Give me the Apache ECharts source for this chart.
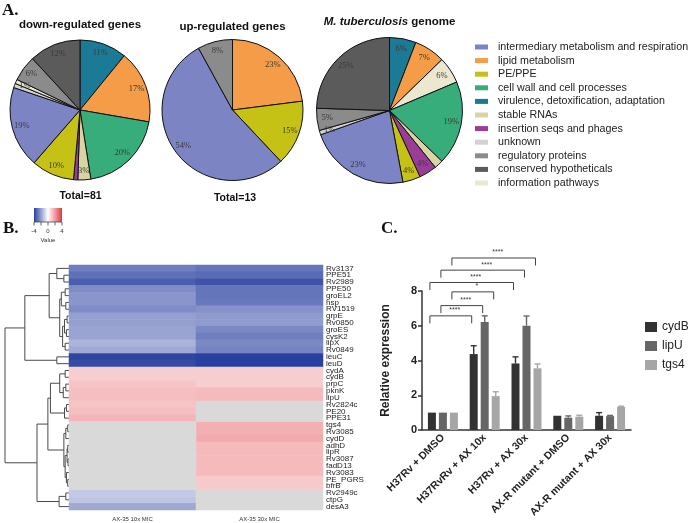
<!DOCTYPE html>
<html><head><meta charset="utf-8">
<script src="https://cdn.jsdelivr.net/npm/echarts@6/dist/echarts.min.js"></script>
<style>html,body{margin:0;padding:0;background:#fff}#c{width:696px;height:523px}</style>
</head><body><div id="c"></div>
<script>
// ================= DATA =================
// Panel A: functional categories
const categories = ['intermediary metabolism and respiration','lipid metabolism','PE/PPE','cell wall and cell processes','virulence, detoxification, adaptation','stable RNAs','insertion seqs and phages','unknown','regulatory proteins','conserved hypotheticals','information pathways'];
// slices clockwise from 12 o'clock, value = percent shown
const downCats = ['virulence, detoxification, adaptation','lipid metabolism','cell wall and cell processes','stable RNAs','insertion seqs and phages','PE/PPE','intermediary metabolism and respiration','unknown','information pathways','regulatory proteins','conserved hypotheticals'];
const downPct = [11,17,20,3,1,10,19,1,1,6,12];
const upCats = ['lipid metabolism','PE/PPE','intermediary metabolism and respiration','regulatory proteins'];
const upPct = [23,15,54,8];
const genomeCats = ['virulence, detoxification, adaptation','lipid metabolism','information pathways','cell wall and cell processes','stable RNAs','insertion seqs and phages','PE/PPE','intermediary metabolism and respiration','unknown','regulatory proteins','conserved hypotheticals'];
const genomePct = [6,7,6,19,2,4,4,23,1,5,25];
const pieTitles = ['down-regulated genes','up-regulated genes','{i|M. tuberculosis} genome'];
const pieTotals = ['Total=81','Total=13'];

// Panel B: heatmap (log2 fold change), null = not significant
const genes = ['Rv3137','PPE51','Rv2989','PPE50','groEL2','hsp','RV1519','grpE','Rv0850','groES','cysK2','lipX','Rv0849','leuC','leuD','cydA','cydB','prpC','pknK','lipU','Rv2824c','PE20','PPE31','tgs4','Rv3085','cydD','adhD','lipR','Rv3087','fadD13','Rv3083','PE_PGRS','bfrB','Rv2949c','ctpG','desA3'];
const conditions = ['AX-35 10x MIC','AX-35 30x MIC'];
const fc10x = [-2.7,-3.0,-3.4,-2.4,-2.2,-2.2,-2.4,-2.0,-2.0,-1.9,-1.9,-1.6,-1.8,-3.9,-3.8,1.0,1.0,1.2,1.3,1.3,1.2,1.3,1.5,null,null,null,null,null,null,null,null,null,null,-1.1,-1.2,-1.8];
const fc30x = [-2.9,-3.1,-3.6,-2.9,-2.9,-2.8,-2.3,-2.1,-2.1,-2.5,-2.7,-2.5,-2.6,-4.0,-4.0,1.0,1.0,1.0,1.4,1.4,null,null,null,1.6,1.6,1.7,1.4,1.4,1.4,1.4,1.4,1.1,1.1,null,null,null];
const colorScaleTicks = [-4,-2,0,2,4];
const colorScaleLabels = ['-4','','0','','4'];
// dendrogram: [height, left, right], leaves = row index
const dendro = [10,
  [6.9,
    [3.1,
      [1.9, 0, [0.8, 1, 2]],
      [1.45,
        [1.2, [0.6, 3, 4], [0.5, 5, 6]],
        [1.0, [0.7, [0.3, 7, 8], [0.4, 9, 10]], [0.6, 11, 12]]
      ]
    ],
    [1.9, 13, 14]
  ],
  [5.0,
    [3.3,
      [2.9,
        [1.45, [0.6, 15, 16], [0.9, [0.5, 17, 18], 19]],
        [0.7, [0.4, 20, 21], 22]
      ],
      [0.8, [0.5, [0.2, 23, 24], 25], [0.6, [0.3, [0.2, 26, 27], [0.15, 28, 29]], [0.4, 30, [0.2, 31, 32]]]]
    ],
    [1.55, [0.5, 33, 34], 35]
  ]
];

// Panel C: relative expression
const groups = ['H37Rv + DMSO','H37RvRv + AX 10x','H37Rv + AX 30x','AX-R mutant + DMSO','AX-R mutant + AX 30x'];
const genesC = ['cydB','lipU','tgs4'];
const cydB = [1,4.37,3.83,0.82,0.82];
const cydBErr = [0,0.48,0.38,0,0.18];
const lipU = [1,6.22,6.0,0.71,0.8];
const lipUErr = [0,0.35,0.56,0.1,0.04];
const tgs4 = [1,1.95,3.55,0.77,1.33];
const tgs4Err = [0,0.25,0.25,0.08,0.04];
// significance brackets: [groupA, geneA, groupB, geneB, level, text]
const brackets = [
  [0,0,1,0,6.57,'****'],
  [0,1,1,1,7.16,'****'],
  [0,2,1,2,7.95,'*'],
  [0,0,2,0,8.49,'****'],
  [0,1,2,1,9.2,'****'],
  [0,2,2,2,9.9,'****']
];

// ================= STYLE =================
const SANS = '"Liberation Sans", Arial, sans-serif';
const SERIF = '"Liberation Serif", "Times New Roman", serif';
const catColors = {
  'intermediary metabolism and respiration':'#7c84c4',
  'lipid metabolism':'#f49c47',
  'PE/PPE':'#c6c215',
  'cell wall and cell processes':'#36ad7a',
  'virulence, detoxification, adaptation':'#1b7a96',
  'stable RNAs':'#d8d5a2',
  'insertion seqs and phages':'#9a3d97',
  'unknown':'#d3d3d3',
  'regulatory proteins':'#8b8b8b',
  'conserved hypotheticals':'#5b5b5b',
  'information pathways':'#ece7d1'
};
const barColors = ['#323232','#666666','#a6a6a6'];
const BAR_W = 8, BAR_GAP = 3;

const pies = [
  {cats: downCats, pct: downPct, cx: 80, cy: 110, r: 70},
  {cats: upCats, pct: upPct, cx: 232.5, cy: 110, r: 70.5},
  {cats: genomeCats, pct: genomePct, cx: 389.5, cy: 110.5, r: 73}
];

const series = [];
pies.forEach(p => {
  series.push({
    type:'pie', center:[p.cx,p.cy], radius:[0,p.r], startAngle:90, clockwise:true,
    silent:true, label:{show:false}, labelLine:{show:false},
    itemStyle:{borderColor:'#111', borderWidth:1},
    data: p.cats.map((c,i)=>({name:c, value:p.pct[i], itemStyle:{color:catColors[c]}}))
  });
});
pies.forEach(p => {
  series.push({
    type:'pie', center:[p.cx,p.cy], radius:[p.r*0.64,p.r], startAngle:90, clockwise:true,
    silent:true, legendHoverLink:false, labelLine:{show:false},
    itemStyle:{color:'rgba(0,0,0,0)', borderWidth:0},
    label:{show:true, position:'inside', formatter:'{c}%', fontFamily:SERIF, fontSize:8.5, color:'#3a3a3a'},
    data: p.cats.map((c,i)=>({name:c, value:p.pct[i]}))
  });
});

// dendrogram segments
const segs = [];
function walk(n){
  if (typeof n === 'number') return {y:n, h:0};
  const a = walk(n[1]), b = walk(n[2]), h = n[0];
  segs.push([a.h, a.y, h, a.y]);
  segs.push([b.h, b.y, h, b.y]);
  segs.push([h, a.y, h, b.y]);
  return {y:(a.y+b.y)/2, h:h};
}
walk(dendro);
series.push({
  type:'custom', xAxisIndex:0, yAxisIndex:0, silent:true, clip:false,
  encode:{x:[0,2], y:[1,3]},
  data: segs,
  renderItem: function(params, api){
    const p1 = api.coord([api.value(0), api.value(1)]);
    const p2 = api.coord([api.value(2), api.value(3)]);
    return {type:'line', shape:{x1:p1[0],y1:p1[1],x2:p2[0],y2:p2[1]}, style:{stroke:'#4a4a4a', lineWidth:1}};
  }
});

// heatmap
const heatData = [], naData = [];
[fc10x, fc30x].forEach((col, ci) => {
  col.forEach((v, ri) => {
    if (v === null) naData.push([ci, ri, 0]); else heatData.push([ci, ri, v]);
  });
});
const heatIndex = series.length;
series.push({type:'heatmap', xAxisIndex:1, yAxisIndex:1, data:heatData, silent:true});
series.push({type:'heatmap', xAxisIndex:1, yAxisIndex:1, data:naData, silent:true, itemStyle:{color:'#d9d9d9'}});

// bars
const barVals = [cydB, lipU, tgs4];
const errVals = [cydBErr, lipUErr, tgs4Err];
genesC.forEach((g, k) => {
  series.push({
    type:'bar', name:g, xAxisIndex:2, yAxisIndex:2, data:barVals[k], barWidth:BAR_W, barGap:(BAR_GAP/BAR_W*100)+'%',
    itemStyle:{color:barColors[k]}, silent:true
  });
});
genesC.forEach((g, k) => {
  series.push({
    type:'custom', name:'err-'+g, xAxisIndex:2, yAxisIndex:2, silent:true, clip:false,
    encode:{x:0, y:1},
    data: barVals[k].map((v,i)=>[i, v, errVals[k][i]]),
    renderItem: function(params, api){
      const e = api.value(2);
      if (!e) return null;
      const c = api.value(0), v = api.value(1);
      const b = api.coord([c, v]), t = api.coord([c, v+e]);
      const x = b[0] + (k-1)*(BAR_W+BAR_GAP);
      const st = {stroke:barColors[k], lineWidth:1.4};
      return {type:'group', children:[
        {type:'line', shape:{x1:x,y1:b[1],x2:x,y2:t[1]}, style:st},
        {type:'line', shape:{x1:x-3,y1:t[1],x2:x+3,y2:t[1]}, style:st}
      ]};
    }
  });
});
series.push({
  type:'custom', name:'brackets', xAxisIndex:2, yAxisIndex:2, silent:true, clip:false,
  encode:{x:0, y:4},
  data: brackets.map((b,i)=>[b[0], b[1], b[2], b[3], b[4], i]),
  renderItem: function(params, api){
    const ga = api.value(0), ka = api.value(1), gb = api.value(2), kb = api.value(3), lv = api.value(4);
    const label = brackets[api.value(5)][5];
    const pa = api.coord([ga, lv]), pb = api.coord([gb, lv]);
    const xa = pa[0] + (ka-1)*(BAR_W+BAR_GAP) - 2, xb = pb[0] + (kb-1)*(BAR_W+BAR_GAP) - 2;
    const y = pa[1], leg = 7.5;
    return {type:'group', children:[
      {type:'polyline', shape:{points:[[xa,y+leg],[xa,y],[xb,y],[xb,y+leg]]}, style:{stroke:'#444', fill:null, lineWidth:1}},
      {type:'text', style:{text:label, x:(xa+xb)/2+4, y:y-2, align:'center', verticalAlign:'bottom', fontSize:7, fontFamily:SANS, fill:'#333'}}
    ]};
  }
});

// ================= GRAPHICS (labels, titles, colour scale) =================
const graphic = [
  {type:'text', x:2, y:11, style:{text:'A.', font:'bold 17px '+SERIF, fill:'#111', verticalAlign:'middle'}},
  {type:'text', x:3, y:229, style:{text:'B.', font:'bold 17px '+SERIF, fill:'#111', verticalAlign:'middle'}},
  {type:'text', x:381, y:229, style:{text:'C.', font:'bold 17px '+SERIF, fill:'#111', verticalAlign:'middle'}}
];
const titleY = [25, 27, 22];
pies.forEach((p, i) => {
  graphic.push({type:'text', x:p.cx, y:titleY[i], style:{
    text:pieTitles[i], align:'center', verticalAlign:'middle', fontFamily:SANS, fontWeight:'bold', fontSize:11.5, fill:'#111',
    rich:{i:{fontStyle:'italic', fontWeight:'bold', fontFamily:SANS, fontSize:11.5, fill:'#111'}}
  }});
});
const totalX = [80.5, 235], totalY = [196.5, 198];
pieTotals.forEach((t, i) => {
  graphic.push({type:'text', x:totalX[i], y:totalY[i], style:{text:t, align:'center', verticalAlign:'middle', fontFamily:SANS, fontWeight:'bold', fontSize:10.5, fill:'#111'}});
});
// colour scale
const csX = 34, csW = 28, csY = 208, csH = 14;
graphic.push({type:'rect', shape:{x:csX, y:csY, width:csW, height:csH}, style:{
  fill:{type:'linear', x:0, y:0, x2:1, y2:0, colorStops:[{offset:0,color:'#2a40a0'},{offset:0.5,color:'#ffffff'},{offset:1,color:'#e0393f'}]}
}});
graphic.push({type:'line', shape:{x1:csX, y1:csY+csH, x2:csX+csW, y2:csY+csH}, style:{stroke:'#444', lineWidth:0.8}});
colorScaleTicks.forEach((v, i) => {
  const x = csX + (v+4)/8*csW;
  graphic.push({type:'line', shape:{x1:x, y1:csY+csH, x2:x, y2:csY+csH+3.5}, style:{stroke:'#444', lineWidth:0.8}});
  if (colorScaleLabels[i]) graphic.push({type:'text', x:x, y:csY+csH+9, style:{text:colorScaleLabels[i], align:'center', verticalAlign:'middle', fontFamily:SANS, fontSize:6, fill:'#333'}});
});
graphic.push({type:'text', x:csX+csW/2, y:240, style:{text:'Value', align:'center', verticalAlign:'middle', fontFamily:SANS, fontSize:6, fill:'#333'}});

// ================= OPTION =================
const option = {
  animation:false,
  backgroundColor:'#fff',
  graphic: graphic,
  legend:[
    {data:categories, orient:'vertical', left:470, top:36, icon:'rect', itemWidth:13, itemHeight:5, itemGap:1.6, selectedMode:false,
     itemStyle:{borderWidth:0},
     textStyle:{fontFamily:SANS, fontSize:10.7, lineHeight:12, color:'#222', padding:[0,0,0,5]}},
    {data:genesC, orient:'vertical', left:640, top:315, icon:'rect', itemWidth:12, itemHeight:10, itemGap:5, selectedMode:false,
     itemStyle:{borderWidth:0},
     textStyle:{fontFamily:SANS, fontSize:12, lineHeight:14, color:'#222'}}
  ],
  visualMap:{show:false, type:'continuous', min:-4, max:4, dimension:2, seriesIndex:[heatIndex],
    inRange:{color:['#2a40a0','#ffffff','#e0393f']}},
  grid:[
    {left:5, top:265, width:64, height:245},
    {left:69, top:265, width:254, height:245},
    {left:422, top:291, width:209, height:139}
  ],
  xAxis:[
    {gridIndex:0, type:'value', min:0, max:10, inverse:true, show:false},
    {gridIndex:1, type:'category', data:conditions, axisLine:{show:false}, axisTick:{show:false},
     axisLabel:{fontFamily:SANS, fontSize:6, color:'#333', margin:6}},
    {gridIndex:2, type:'category', data:groups, axisLine:{lineStyle:{color:'#333', width:1.5}}, axisTick:{show:false},
     axisLabel:{rotate:45, interval:0, fontFamily:SANS, fontWeight:'bold', fontSize:10.5, color:'#222', margin:6}}
  ],
  yAxis:[
    {gridIndex:0, type:'value', min:-0.5, max:35.5, inverse:true, show:false},
    {gridIndex:1, type:'category', data:genes, inverse:true, position:'right', axisLine:{show:false}, axisTick:{show:false},
     axisLabel:{interval:0, fontFamily:SANS, fontSize:8, lineHeight:7, color:'#222', margin:3}},
    {gridIndex:2, type:'value', min:0, max:8, interval:2, splitLine:{show:false},
     axisLine:{show:true, lineStyle:{color:'#333', width:1.5}}, axisTick:{show:true, length:4, lineStyle:{color:'#333', width:1.5}},
     axisLabel:{fontFamily:SANS, fontWeight:'bold', fontSize:11, color:'#222', margin:5},
     name:'Relative expression', nameLocation:'middle', nameGap:30,
     nameTextStyle:{fontFamily:SANS, fontWeight:'bold', fontSize:12, color:'#222'}}
  ],
  series: series
};
const chart = echarts.init(document.getElementById('c'), null, {renderer:'canvas'});
chart.setOption(option);
</script></body></html>
